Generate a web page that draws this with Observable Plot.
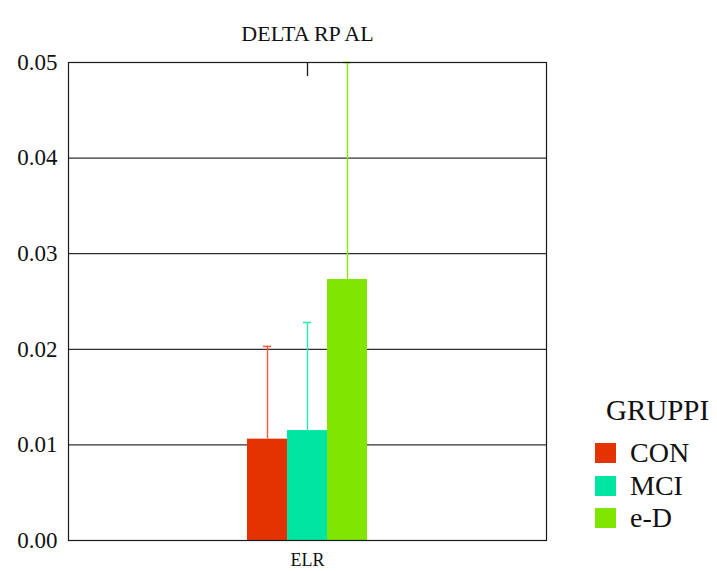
<!DOCTYPE html>
<html>
<head>
<meta charset="utf-8">
<script src="https://cdn.jsdelivr.net/npm/d3@7"></script>
<script src="https://cdn.jsdelivr.net/npm/@observablehq/plot@0.6"></script>
<style>
  html, body { margin: 0; padding: 0; background: #fff; }
  #chart { position: relative; width: 717px; height: 571px; font-family: "Liberation Serif", "Times New Roman", Tinos, "DejaVu Serif", "Noto Serif", serif; color: #111; }
  #chart svg { position: absolute; left: 0; top: 0; }
  .legend { position: absolute; left: 0; top: 0; }
  .legend .head { position: absolute; left: 606px; top: 396px; font-size: 29px; line-height: 29px; white-space: nowrap; }
  .legend .sw { position: absolute; width: 21px; height: 20px; }
  .legend .lab { position: absolute; font-size: 28px; line-height: 28px; white-space: nowrap; }
</style>
</head>
<body>
<div id="chart"></div>
<script>
// Chart content
const title = ["DELTA RP AL"];
const categories = ["ELR"];
const groups = ["CON", "MCI", "e-D"];
const means = [0.0106, 0.0115, 0.0273];
const sds = [0.0097, 0.0113, 0.0227];
const fills = ["#e43200", "#00e6a2", "#80e600"];
const errStrokes = ["#ff5a36", "#2ee8b4", "#8aec10"];
const legendTitle = "GRUPPI";
const yTicks = [0, 0.01, 0.02, 0.03, 0.04, 0.05];

const serif = "'Liberation Serif', 'Times New Roman', Tinos, 'DejaVu Serif', 'Noto Serif', serif";

const rows = groups.map((g, i) => ({
  cat: categories[0],
  group: g,
  mean: means[i],
  hi: means[i] + sds[i],
  err: errStrokes[i]
}));

const plot = Plot.plot({
  width: 717,
  height: 571,
  marginLeft: 68,
  marginRight: 171,
  marginTop: 62,
  marginBottom: 31,
  style: { fontFamily: serif, color: "#111", background: "transparent" },
  fx: { domain: categories, padding: 0, label: null },
  x: { domain: groups, paddingInner: 0, paddingOuter: 4.4, axis: null },
  y: { domain: [0, 0.05], axis: null },
  color: { domain: groups, range: fills },
  marks: [
    Plot.gridY(yTicks, { stroke: "#1a1a1a", strokeOpacity: 0.9, strokeWidth: 1.2 }),
    Plot.barY(rows, { fx: "cat", x: "group", y: "mean", fill: "group", clip: true }),
    Plot.ruleX(rows, { fx: "cat", x: "group", y1: "mean", y2: "hi", stroke: "err", strokeWidth: 1.4, clip: true }),
    Plot.tickY(rows, { fx: "cat", x: "group", y: "hi", stroke: "err", strokeWidth: 1.6, insetLeft: 16, insetRight: 16 }),
    Plot.frame({ stroke: "#1a1a1a", strokeWidth: 1.2 }),
    Plot.axisY(yTicks, { tickSize: 0, tickPadding: 11, tickFormat: d3.format(".2f"), fontSize: 23, fontFamily: serif, label: null }),
    Plot.axisFx({ anchor: "bottom", tickSize: 0, tickPadding: 13, fontSize: 18, fontFamily: serif, label: null }),
    Plot.axisFx({ anchor: "top", tickSize: 13, dy: 13, tickFormat: () => "", label: null, stroke: "#1a1a1a", strokeWidth: 1.3 }),
    Plot.text(title, { frameAnchor: "top", dy: -37, fontSize: 22, fontFamily: serif, fill: "#111" })
  ]
});

const chart = document.getElementById("chart");
chart.appendChild(plot);

// Legend for the groups
const legend = document.createElement("div");
legend.className = "legend";
const head = document.createElement("div");
head.className = "head";
head.textContent = legendTitle;
legend.appendChild(head);
groups.forEach((g, i) => {
  const top = 443 + i * 32.5;
  const sw = document.createElement("div");
  sw.className = "sw";
  sw.style.left = "595px";
  sw.style.top = top + "px";
  sw.style.background = fills[i];
  legend.appendChild(sw);
  const lab = document.createElement("div");
  lab.className = "lab";
  lab.style.left = "630px";
  lab.style.top = (top - 4) + "px";
  lab.textContent = g;
  legend.appendChild(lab);
});
chart.appendChild(legend);
</script>
</body>
</html>
